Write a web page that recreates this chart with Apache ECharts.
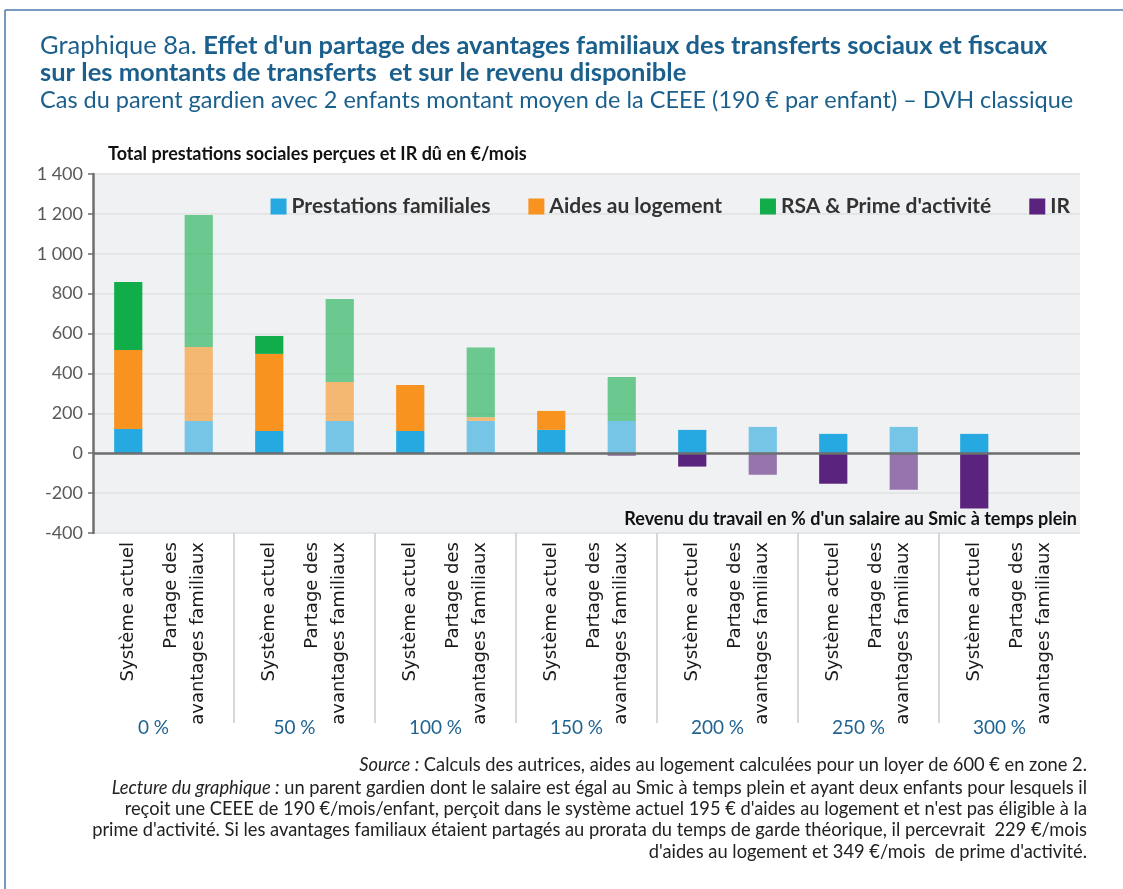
<!DOCTYPE html>
<html>
<head>
<meta charset="utf-8">
<script src="https://cdn.jsdelivr.net/npm/echarts@6/dist/echarts.min.js"></script>
<style>
  html, body { margin: 0; padding: 0; background: #ffffff; }
  #chart { width: 1123px; height: 889px; }
</style>
</head>
<body>
<div id="chart"></div>
<script>
// ---- Data ----
const categories = [
  'Système actuel', 'Partage des\navantages familiaux\n ',
  'Système actuel', 'Partage des\navantages familiaux\n ',
  'Système actuel', 'Partage des\navantages familiaux\n ',
  'Système actuel', 'Partage des\navantages familiaux\n ',
  'Système actuel', 'Partage des\navantages familiaux\n ',
  'Système actuel', 'Partage des\navantages familiaux\n ',
  'Système actuel', 'Partage des\navantages familiaux\n '
];
const groupLabels = ['0 %', '50 %', '100 %', '150 %', '200 %', '250 %', '300 %'];
const prestationsFamiliales = [122, 162, 112, 162, 112, 162, 117, 162, 117, 132, 97, 132, 97, null];
const aidesLogement        = [396, 371, 386, 195, 230, 18, 95, 0, 0, 0, 0, 0, 0, null];
const rsaPrime             = [341, 661, 90, 416, 0, 350, 0, 220, 0, 0, 0, 0, 0, null];
const impotRevenu          = [0, 0, 0, 0, 0, 0, 0, -13, -67, -108, -153, -183, -277, null];
const yTicks = { min: -400, max: 1400, interval: 200 };

// ---- Styles ----
const colors = {
  pf: '#25A9E0', al: '#F7931E', rsa: '#12AD4B', ir: '#5A237D'
};
const titleColor = '#1B5F8D';
const fontMain = 'Lato, "Open Sans", sans-serif';

function withShade(values) {
  return values.map((v, i) => (i % 2 === 1 ? { value: v, itemStyle: { opacity: 0.6 } } : v));
}
function fmtThousands(v) {
  const s = String(Math.abs(v)).replace(/\B(?=(\d{3})+(?!\d))/g, ' ');
  return (v < 0 ? '-' : '') + s;
}

const dividerPositions = [];
const labelPositions = [];
for (let g = 0; g < groupLabels.length; g++) {
  labelPositions.push(g * 2 + 1);
  if (g > 0) dividerPositions.push(g * 2);
}

const footerLines = [
  '{i|Source :} Calculs des autrices, aides au logement calculées pour un loyer de 600 € en zone 2.',
  '{i|Lecture du graphique :} un parent gardien dont le salaire est égal au Smic à temps plein et ayant deux enfants pour lesquels il',
  'reçoit une CEEE de 190 €/mois/enfant, perçoit dans le système actuel 195 € d\'aides au logement et n\'est pas éligible à la',
  'prime d\'activité. Si les avantages familiaux étaient partagés au prorata du temps de garde théorique, il percevrait  229 €/mois',
  'd\'aides au logement et 349 €/mois  de prime d\'activité.'
];
const footerTops = [756, 779, 800, 821, 843];

const titles = [
  {
    left: 40, top: 32, padding: 0,
    text: '{r|Graphique 8a. }{b|Effet d\'un partage des avantages familiaux des transferts sociaux et fiscaux}\n{b|sur les montants de transferts  et sur le revenu disponible}',
    textStyle: {
      fontWeight: 'normal',
      rich: {
        r: { fontFamily: fontMain, fontSize: 25.5, fontWeight: 'normal', color: titleColor, lineHeight: 27 },
        b: { fontFamily: fontMain, fontSize: 25.5, fontWeight: 'bold', color: titleColor, lineHeight: 27 }
      }
    }
  },
  {
    left: 40, top: 88, padding: 0,
    text: 'Cas du parent gardien avec 2 enfants montant moyen de la CEEE (190 € par enfant) – DVH classique',
    textStyle: { fontFamily: fontMain, fontSize: 23.5, fontWeight: 'normal', color: titleColor }
  },
  {
    left: 108, top: 145, padding: 0,
    text: 'Total prestations sociales perçues et IR dû en €/mois',
    textStyle: { fontFamily: fontMain, fontSize: 18, fontWeight: 'bold', color: '#111' }
  },
  {
    right: 46, top: 510, padding: 0,
    text: 'Revenu du travail en % d\'un salaire au Smic à temps plein',
    textStyle: { fontFamily: fontMain, fontSize: 18, fontWeight: 'bold', color: '#111' }
  }
];
footerLines.forEach((t, k) => {
  titles.push({
    right: 36, top: footerTops[k], padding: 0,
    text: t,
    textStyle: {
      fontFamily: fontMain, fontSize: 18.3, fontWeight: 'normal', color: '#222',
      rich: { i: { fontFamily: fontMain, fontSize: 18.3, fontStyle: 'italic', color: '#222' } }
    }
  });
});

const chart = echarts.init(document.getElementById('chart'), null, { renderer: 'canvas' });
chart.setOption({
  animation: false,
  backgroundColor: '#ffffff',
  title: titles,
  graphic: [
    { type: 'line', shape: { x1: 5, y1: 10, x2: 1123, y2: 10 }, style: { stroke: '#4A7BAF', lineWidth: 1.5 } },
    { type: 'line', shape: { x1: 5, y1: 10, x2: 5, y2: 889 }, style: { stroke: '#4A7BAF', lineWidth: 1.5 } }
  ],
  legend: {
    data: ['Prestations familiales', 'Aides au logement', 'RSA & Prime d\'activité', 'IR'],
    right: 53, top: 196, padding: 0,
    icon: 'rect', itemWidth: 16, itemHeight: 16, itemGap: 38,
    textStyle: { fontFamily: fontMain, fontSize: 21, fontWeight: 'bold', color: '#333' }
  },
  grid: {
    left: 93, right: 43, top: 174, bottom: 356,
    show: true, backgroundColor: '#F0F1F3', borderWidth: 0
  },
  xAxis: [
    {
      type: 'category',
      data: categories,
      position: 'bottom',
      axisLine: { show: false },
      axisTick: { show: false },
      axisLabel: {
        interval: 0, rotate: 90, margin: 9,
        fontFamily: '"DejaVu Sans", sans-serif', fontSize: 18, lineHeight: 27, color: '#1a1a1a'
      },
      splitLine: { show: false }
    },
    {
      type: 'value',
      min: 0, max: categories.length,
      position: 'bottom',
      axisLine: { show: false },
      splitLine: { show: false },
      axisTick: {
        show: true, inside: false, length: 190,
        customValues: dividerPositions,
        lineStyle: { color: '#CACACA', width: 1.5 }
      },
      axisLabel: {
        show: true, margin: 185,
        customValues: labelPositions,
        formatter: v => groupLabels[Math.round((v - 1) / 2)],
        fontFamily: fontMain, fontSize: 19, color: '#1F6391',
        padding: [0, 20, 0, 0]
      }
    }
  ],
  yAxis: {
    type: 'value',
    min: yTicks.min, max: yTicks.max, interval: yTicks.interval,
    axisLine: { show: true, lineStyle: { color: '#6E6E6E', width: 2.5 } },
    axisTick: { show: true, length: 5, lineStyle: { color: '#6E6E6E', width: 1.5 } },
    axisLabel: {
      margin: 10, formatter: fmtThousands,
      fontFamily: fontMain, fontSize: 18, color: '#595959'
    },
    splitLine: { show: true, lineStyle: { color: '#E0E1E3', width: 1.5 } }
  },
  series: [
    {
      name: 'Prestations familiales', type: 'bar', stack: 'total', xAxisIndex: 0,
      barWidth: '40%', itemStyle: { color: colors.pf },
      data: withShade(prestationsFamiliales),
      markLine: {
        silent: true, symbol: ['none', 'none'], label: { show: false },
        lineStyle: { color: '#6E6E6E', width: 2.5, type: 'solid' },
        data: [{ yAxis: 0 }]
      },
      z: 2
    },
    {
      name: 'Aides au logement', type: 'bar', stack: 'total', xAxisIndex: 0,
      barWidth: '40%', itemStyle: { color: colors.al },
      data: withShade(aidesLogement)
    },
    {
      name: 'RSA & Prime d\'activité', type: 'bar', stack: 'total', xAxisIndex: 0,
      barWidth: '40%', itemStyle: { color: colors.rsa },
      data: withShade(rsaPrime)
    },
    {
      name: 'IR', type: 'bar', stack: 'total', xAxisIndex: 0,
      barWidth: '40%', itemStyle: { color: colors.ir },
      data: withShade(impotRevenu)
    }
  ]
});
</script>
</body>
</html>
